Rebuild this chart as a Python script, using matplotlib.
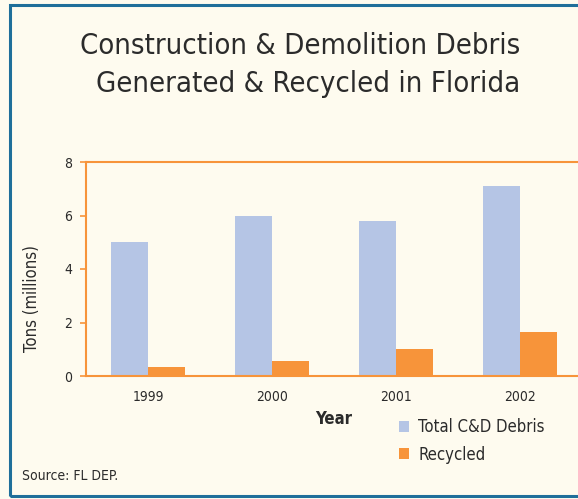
import matplotlib.pyplot as plt
import numpy as np
from matplotlib.patches import Rectangle

years = ["1999", "2000", "2001", "2002"]
total = [5.0, 6.0, 5.8, 7.1]
recycled = [0.35, 0.55, 1.0, 1.65]

bg = "#FEFBEF"
blue = "#B5C5E5"
orange = "#F7943A"
txt = "#2b2b2b"

plt.rcParams['font.family'] = ['DejaVu Sans']
plt.rcParams['font.stretch'] = 'condensed'

W, H = 578, 499
fig = plt.figure(figsize=(W / 100, H / 100), dpi=100, facecolor=bg)

# frame around the panel (right side runs off the picture)
fig.patches.append(Rectangle((9.5 / W, 3 / H), 1.0, (494 - 3) / H,
                             transform=fig.transFigure, fill=False,
                             edgecolor="#1f6f9a", linewidth=2.2))

ax = fig.add_axes([86 / W, (H - 376) / H, (582 - 86) / W, (376 - 162) / H])
ax.set_facecolor(bg)

x = np.arange(len(years))
w = 0.30
ax.bar(x - w / 2, total, w, color=blue, label="Total C&D Debris", zorder=2)
ax.bar(x + w / 2, recycled, w, color=orange, label="Recycled", zorder=2)

ax.set_xlim(-0.5, 3.5)
ax.set_ylim(0, 8)
ax.set_yticks([0, 2, 4, 6, 8])
ax.set_xticks(x)
ax.set_xticklabels(years)
for s in ax.spines.values():
    s.set_color(orange)
    s.set_linewidth(1.5)
ax.tick_params(axis='y', colors=orange, labelcolor=txt, labelsize=10, length=4, width=1.2, pad=6)
ax.tick_params(axis='x', length=0, labelcolor=txt, labelsize=10, pad=10)

fig.text(32 / W, 1 - 298 / H, "Tons (millions)", rotation=90, ha='center', va='center',
         fontsize=12, color=txt)
fig.text(334 / W, 1 - 419 / H, "Year", ha='center', va='center', fontsize=12,
         fontweight='bold', color=txt)

fig.legend(loc='upper left', bbox_to_anchor=(391 / W, 1 - 410 / H), frameon=False,
           fontsize=12, handlelength=0.6, handleheight=0.6, labelcolor=txt,
           labelspacing=0.55, handletextpad=0.55, borderpad=0)

fig.text(300 / W, 1 - 46 / H, "Construction & Demolition Debris", ha='center', va='center',
         fontsize=21, color=txt)
fig.text(308 / W, 1 - 84 / H, "Generated & Recycled in Florida", ha='center', va='center',
         fontsize=21, color=txt)
fig.text(22 / W, 1 - 476 / H, "Source: FL DEP.", ha='left', va='center', fontsize=10, color=txt)

fig.savefig("out.png", dpi=100, facecolor=bg)
